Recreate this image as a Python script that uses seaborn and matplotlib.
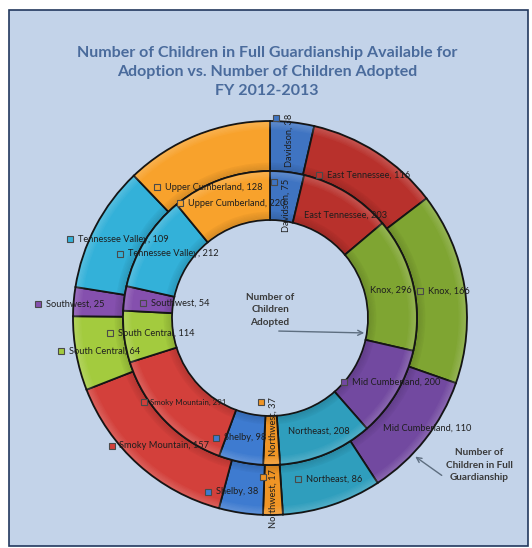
import matplotlib
matplotlib.use("Agg")
import matplotlib.pyplot as plt
from matplotlib.patches import Rectangle, FancyArrowPatch, Wedge
import seaborn as sns

# Regions, in the order they run clockwise from 12 o'clock
regions = ["Davidson", "East Tennessee", "Knox", "Mid Cumberland", "Northeast",
           "Northwest", "Shelby", "Smoky Mountain", "South Central", "Southwest",
           "Tennessee Valley", "Upper Cumberland"]
# Outer ring: children in full guardianship
guardianship = [38, 116, 166, 110, 86, 17, 38, 157, 64, 25, 109, 128]
# Inner ring: children adopted
adopted = [75, 203, 296, 200, 208, 37, 98, 291, 114, 54, 212, 220]

title = ("Number of Children in Full Guardianship Available for\n"
         "Adoption vs. Number of Children Adopted\nFY 2012-2013")
inner_note = "Number of\nChildren\nAdopted"
outer_note = "Number of\nChildren in Full\nGuardianship"

sns.set_theme(style="white")
plt.rcParams["font.family"] = ["Lato", "DejaVu Sans"]

palette = sns.color_palette([
    "#3F74C2", "#B8312C", "#7FA532", "#7249A0", "#2F9EBD", "#F09525",
    "#3E7BD0", "#D3403B", "#A3CB3E", "#8550AE", "#33B1D9", "#F8A22C",
])

W, H = 532, 548
fig = plt.figure(figsize=(W / 100, H / 100), dpi=100)
fig.patch.set_facecolor("white")
ax = fig.add_axes([0, 0, 1, 1])


def P(x, y):
    """Pixel position measured from the top-left corner -> axes data coords."""
    return x, H - y


# chart area background
ax.add_patch(Rectangle(P(9, 546), 519, 536, facecolor="#C3D3E9",
                       edgecolor="#22385E", linewidth=1.2, zorder=0))

cx, cy = P(270, 318)
R_OUT, R_MID, R_IN = 197, 147, 98
edge = dict(edgecolor="#151515", linewidth=1.3)

ax.pie(guardianship, radius=R_OUT, center=(cx, cy), startangle=90,
       counterclock=False, colors=palette,
       wedgeprops=dict(width=R_OUT - R_MID, **edge))
ax.pie(adopted, radius=R_MID, center=(cx, cy), startangle=90,
       counterclock=False, colors=palette,
       wedgeprops=dict(width=R_MID - R_IN, **edge))

# soft bevel: fading light rim outside each ring, fading shade inside
for r_hi, r_lo in ((R_OUT, R_MID), (R_MID, R_IN)):
    for k in range(6):
        ax.add_patch(Wedge((cx, cy), r_hi - 1.2 - k * 1.2, 0, 360, width=1.2,
                           facecolor="white", alpha=0.16 - k * 0.025,
                           linewidth=0, zorder=3))
        ax.add_patch(Wedge((cx, cy), r_lo + 1.2 + (k + 1) * 1.2, 0, 360,
                           width=1.2, facecolor="black",
                           alpha=0.12 - k * 0.018, linewidth=0, zorder=3))

ax.set_xlim(0, W)
ax.set_ylim(0, H)
ax.set_aspect("auto")
ax.axis("off")

# data labels: index -> (marker position or None, text anchor, rotation)
label_font = 6.7
label_color = "#1E1E1E"
outer_labels = {
    0: ((276, 118), (289, 140), 90),
    1: ((319, 175), (327, 175), 0),
    2: ((420, 291), (428, 291), 0),
    3: (None, (383, 428), 0),
    4: ((298, 479), (306, 479), 0),
    5: ((263, 477), (273, 499), 90),
    6: ((208, 492), (216, 492), 0),
    7: ((112, 446), (119, 446), 0),
    8: ((61, 351), (69, 351), 0),
    9: ((38, 304), (46, 304), 0),
    10: ((70, 239), (78, 239), 0),
    11: ((157, 187), (165, 187), 0),
}
inner_labels = {
    0: ((274, 182), (286, 205), 90),
    1: (None, (304, 215), 0),
    2: (None, (370, 290), 0),
    3: ((344, 382), (352, 382), 0),
    4: (None, (288, 431), 0),
    5: ((261, 402), (273, 427), 90),
    6: ((216, 438), (224, 438), 0),
    7: ((144, 402), (150, 402), 0),
    8: ((110, 333), (118, 333), 0),
    9: ((143, 303), (151, 303), 0),
    10: ((120, 254), (128, 254), 0),
    11: ((180, 203), (188, 203), 0),
}


def draw_labels(values, layout, small=()):
    for i, (mk, txt, rot) in layout.items():
        if mk is not None:
            ax.plot(*P(*mk), marker="s", markersize=4.6,
                    markerfacecolor=palette[i], markeredgecolor="#4A4A4A",
                    markeredgewidth=0.8, zorder=6)
        size = label_font - 1.0 if i in small else label_font
        if rot:
            ax.text(*P(*txt), f"{regions[i]}, {values[i]}", rotation=rot,
                    ha="center", va="center", fontsize=size,
                    color=label_color, zorder=7)
        else:
            ax.text(*P(*txt), f"{regions[i]}, {values[i]}", ha="left",
                    va="center", fontsize=size, color=label_color, zorder=7)


draw_labels(guardianship, outer_labels)
draw_labels(adopted, inner_labels, small=(7,))

# title
ax.text(*P(267, 72), title, ha="center", va="center", fontsize=11.5,
        fontweight="bold", color="#4A6B9C", linespacing=1.42)

# ring callouts
note_style = dict(ha="center", va="center", fontsize=7.2, fontweight="bold",
                  color="#3A3A3A", linespacing=1.45)
ax.text(*P(270, 310), inner_note, **note_style)
ax.text(*P(479, 465), outer_note, **note_style)
ax.add_patch(FancyArrowPatch(P(276, 331), P(367, 333), arrowstyle="->",
                             mutation_scale=9, color="#5E6E80", linewidth=1.0,
                             zorder=8))
ax.add_patch(FancyArrowPatch(P(444, 477), P(413, 455), arrowstyle="->",
                             mutation_scale=9, color="#5E6E80", linewidth=1.0,
                             zorder=8))

fig.savefig("out.png", dpi=100, facecolor=fig.get_facecolor())
